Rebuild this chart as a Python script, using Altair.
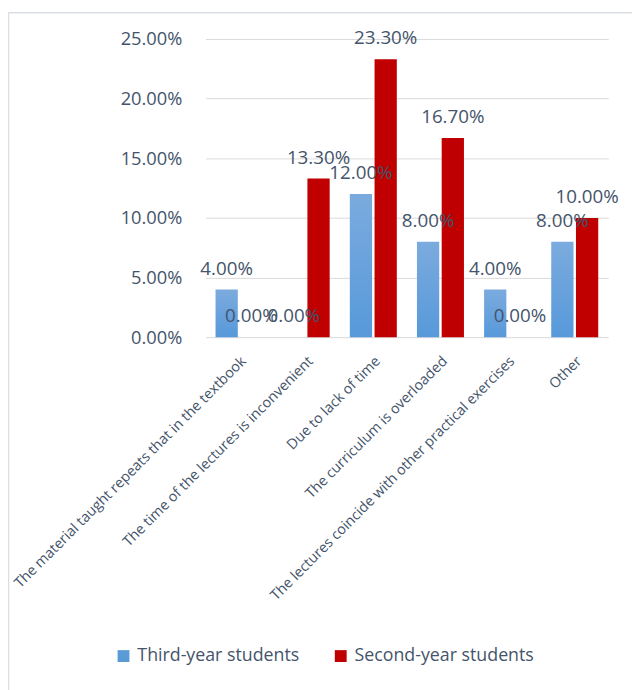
import altair as alt
import pandas as pd

categories = [
    "The material taught repeats that in the textbook",
    "The time of the lectures is inconvenient",
    "Due to lack of time",
    "The curriculum is overloaded",
    "The lectures coincide with other practical exercises",
    "Other",
]
series_names = ["Third-year students", "Second-year students"]
third_year = [0.04, 0.00, 0.12, 0.08, 0.04, 0.08]
second_year = [0.00, 0.133, 0.233, 0.167, 0.00, 0.10]
y_ticks = [0, 0.05, 0.10, 0.15, 0.20, 0.25]

rows = []
for c, v in zip(categories, third_year):
    rows.append({"category": c, "series": series_names[0], "value": v})
for c, v in zip(categories, second_year):
    rows.append({"category": c, "series": series_names[1], "value": v})
df = pd.DataFrame(rows)

FONT = "Open Sans"
TXT = "#44546A"

blue_grad = {
    "gradient": "linear",
    "x1": 0, "y1": 0, "x2": 0, "y2": 1,
    "stops": [
        {"offset": 0, "color": "#7BABDE"},
        {"offset": 1, "color": "#5799DA"},
    ],
}

x_enc = alt.X(
    "category:N",
    sort=categories,
    scale=alt.Scale(paddingInner=0.3, paddingOuter=0.15),
    axis=alt.Axis(
        title=None,
        labelAngle=-45,
        labelAlign="right",
        labelBaseline="top",
        labelPadding=17,
        labelFontSize=14.5,
        labelColor=TXT,
        labelFont=FONT,
        labelLimit=500,
        domain=False,
        ticks=False,
        grid=False,
    ),
)
y_enc = alt.Y(
    "value:Q",
    scale=alt.Scale(domain=[0, 0.25], nice=False),
    axis=alt.Axis(
        title=None,
        values=y_ticks,
        format=".2%",
        labelFontSize=18.5,
        labelFont=FONT,
        labelColor=TXT,
        labelPadding=24,
        domain=False,
        ticks=False,
        gridColor="#D9D9D9",
        gridWidth=1,
    ),
)
xoff = alt.XOffset("series:N", sort=series_names, scale=alt.Scale(paddingInner=0.1))

base = alt.Chart(df).encode(x=x_enc, xOffset=xoff)

bars = base.mark_bar().encode(
    y=y_enc,
    color=alt.condition(
        alt.datum.series == series_names[0],
        alt.value(blue_grad),
        alt.Color(
            "series:N",
            sort=series_names,
            scale=alt.Scale(domain=series_names, range=["#5B9BD5", "#C00000"]),
            legend=alt.Legend(
                title=None,
                orient="none",
                direction="horizontal",
                legendX=-92,
                legendY=616,
                symbolType="square",
                symbolSize=144,
                symbolStrokeWidth=0,
                labelFontSize=18,
                labelFont=FONT,
                labelColor=TXT,
                labelOffset=5,
                labelLimit=400,
                columnPadding=32,
                padding=0,
            ),
        ),
    ),
)

labels = base.mark_text(
    align="center", baseline="alphabetic", dy=-15, fontSize=19, font=FONT, color=TXT
).encode(
    y=alt.Y("value:Q"),
    text=alt.Text("value:Q", format=".2%"),
)

frame_df = pd.DataFrame({"k": [0]})
left_border = alt.Chart(frame_df).mark_rule(color="#D9DEE5", strokeWidth=1.5).encode(
    x=alt.value(-199.5), y=alt.value(-26.5), y2=alt.value(700)
)
top_border = alt.Chart(frame_df).mark_rule(color="#D9DEE5", strokeWidth=1.5).encode(
    x=alt.value(-199.5), x2=alt.value(440), y=alt.value(-26.5)
)

chart = (
    alt.layer(bars, labels, left_border, top_border)
    .properties(
        width=408,
        height=302,
        padding={"left": 200, "top": 27, "right": 24, "bottom": 353},
        autosize=alt.AutoSizeParams(type="none"),
    )
    .configure_view(stroke=None)
)

chart.save("out.html", embed_options={"renderer": "svg", "actions": False})
